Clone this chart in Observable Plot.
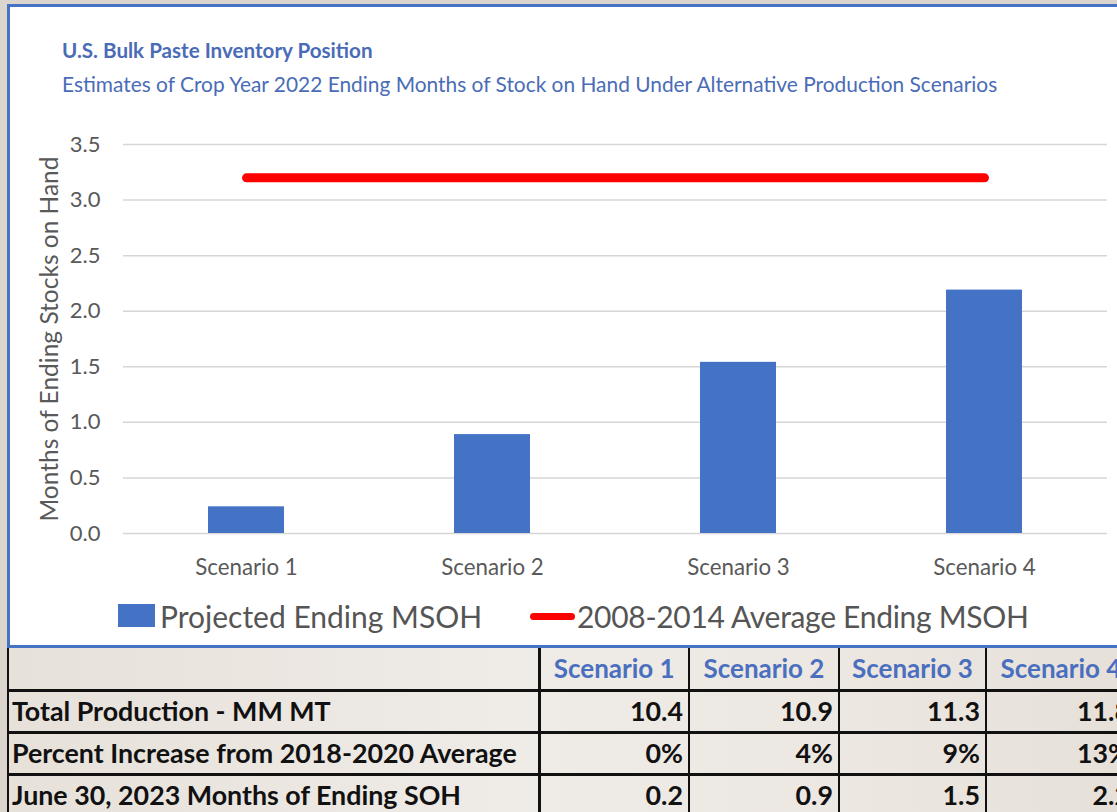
<!DOCTYPE html>
<html>
<head>
<meta charset="utf-8">
<script src="https://cdn.jsdelivr.net/npm/d3@7"></script>
<script src="https://cdn.jsdelivr.net/npm/@observablehq/plot@0.6"></script>
<style>
  html, body { margin: 0; padding: 0; }
  body { width: 1117px; height: 812px; overflow: hidden; background: #dcd5cd; position: relative; font-family: Lato, "Open Sans", sans-serif; }
  #panel { position: absolute; left: 7px; top: 4px; width: 1140px; height: 644px; box-sizing: border-box; border: 3px solid #4472c4; background: #fff; }
  .title { position: absolute; left: 62px; color: #4a6cb6; line-height: 24px; white-space: nowrap; }
  #t1 { top: 38px; font-weight: 700; font-size: 20.6px; }
  #t2 { top: 72px; font-weight: 400; font-size: 20.9px; }
  #chart { position: absolute; left: 0; top: 110px; }
  #legend { position: absolute; top: 596px; left: 0; height: 40px; width: 1117px; font-size: 30px; color: #555; }
  .sw-bar { position: absolute; left: 118px; top: 8px; width: 37px; height: 23px; background: #4472c4; }
  .sw-line { position: absolute; left: 530px; top: 17px; width: 45px; height: 7px; border-radius: 4px; background: #ff0000; }
  .lg-text { position: absolute; top: 0; line-height: 40px; white-space: nowrap; }
  #tbl { position: absolute; left: 7px; top: 648px; border-collapse: collapse; table-layout: fixed;
         background: linear-gradient(90deg, #e7e1da 0%, #efebe6 45%, #ece7e1 75%, #e6e0d9 100%); }
  #tbl td { border: 3px solid #111; padding: 0 5px; height: 42px; box-sizing: border-box; font-weight: 700; font-size: 26.8px; color: #111; white-space: nowrap; overflow: hidden; }
  #tbl tr:first-child td { border-top: none; }
  #tbl td.num { text-align: right; border-left-width: 2px; border-right-width: 2px; }
  #tbl td.hdr { text-align: center; color: #4a6fbf; font-size: 26px; border-left-width: 2px; border-right-width: 2px; }
  #tbl td.lab { text-align: left; border-left-width: 2px; border-right-width: 3px; padding-left: 3px; }
</style>
</head>
<body>
<div id="panel"></div>
<div class="title" id="t1"></div>
<div class="title" id="t2"></div>
<div id="chart"></div>
<div id="legend"></div>
<table id="tbl"></table>
<script>
// ---- data ----
const titleText = "U.S. Bulk Paste Inventory Position";
const subtitleText = "Estimates of Crop Year 2022 Ending Months of Stock on Hand Under Alternative Production Scenarios";
const scenarios = ["Scenario 1", "Scenario 2", "Scenario 3", "Scenario 4"];
const projectedMSOH = [0.24, 0.89, 1.54, 2.19];
const averageMSOH = 3.2;
const yTicks = [0, 0.5, 1, 1.5, 2, 2.5, 3, 3.5];
const yLabel = "Months of Ending Stocks on Hand";
const legendBar = "Projected Ending MSOH";
const legendLine = "2008-2014 Average Ending MSOH";
const rowLabels = ["Total Production - MM MT", "Percent Increase from 2018-2020 Average", "June 30, 2023 Months of Ending SOH"];
const totalProduction = ["10.4", "10.9", "11.3", "11.8"];
const percentIncrease = ["0%", "4%", "9%", "13%"];
const endingSOH = ["0.2", "0.9", "1.5", "2.2"];

// ---- titles ----
document.getElementById("t1").textContent = titleText;
document.getElementById("t2").textContent = subtitleText;

// ---- chart ----
const bars = scenarios.map((s, i) => ({scenario: s, value: projectedMSOH[i]}));
const avgLine = scenarios.map(s => ({scenario: s, value: averageMSOH}));

const chart = Plot.plot({
  width: 1117,
  height: 480,
  marginLeft: 123,
  marginRight: 10,
  marginTop: 34,
  marginBottom: 57,
  style: {fontFamily: "Lato, sans-serif", fontSize: "21px", color: "#595959", background: "transparent", overflow: "visible"},
  x: {domain: scenarios, paddingInner: 0.69, paddingOuter: 0.345, label: null},
  y: {domain: [0, 3.5], label: null},
  marks: [
    Plot.gridY(yTicks, {stroke: "#d6d6d6", strokeOpacity: 1, strokeWidth: 1.5}),
    Plot.barY(bars, {x: "scenario", y: "value", fill: "#4472c4"}),
    Plot.lineY(avgLine, {x: "scenario", y: "value", stroke: "#ff0000", strokeWidth: 9, strokeLinecap: "round"}),
    Plot.axisX({tickSize: 0, tickPadding: 26, fontSize: 22.3, fill: "#595959"}),
    Plot.axisY({ticks: yTicks, tickFormat: d3.format(".1f"), tickSize: 0, tickPadding: 23, fontSize: 22, label: null}),
    Plot.text([yLabel], {text: d => d, frameAnchor: "left", textAnchor: "middle", lineAnchor: "middle", rotate: -90, dx: -73, fontSize: 24.5, fill: "#595959"})
  ]
});
document.getElementById("chart").appendChild(chart);

// ---- legend ----
const lg = document.getElementById("legend");
lg.innerHTML = `<div class="sw-bar"></div><div class="lg-text" style="left:160px"></div>
<div class="sw-line"></div><div class="lg-text" style="left:577px; letter-spacing:-0.3px"></div>`;
const lgTexts = lg.querySelectorAll(".lg-text");
lgTexts[0].textContent = legendBar;
lgTexts[1].textContent = legendLine;

// ---- table ----
const tbl = document.getElementById("tbl");
const colWidths = [531, 150, 150, 147, 150];
const cg = document.createElement("colgroup");
colWidths.forEach(w => { const c = document.createElement("col"); c.style.width = w + "px"; cg.appendChild(c); });
tbl.appendChild(cg);
tbl.style.width = d3.sum(colWidths) + "px";
const hdr = tbl.insertRow();
const h0 = hdr.insertCell(); h0.className = "lab"; h0.style.height = "41px";
scenarios.forEach(s => { const c = hdr.insertCell(); c.className = "hdr"; c.textContent = s; });
[totalProduction, percentIncrease, endingSOH].forEach((vals, r) => {
  const tr = tbl.insertRow();
  const l = tr.insertCell(); l.className = "lab"; l.textContent = rowLabels[r];
  vals.forEach(v => { const c = tr.insertCell(); c.className = "num"; c.textContent = v; });
});
</script>
</body>
</html>
